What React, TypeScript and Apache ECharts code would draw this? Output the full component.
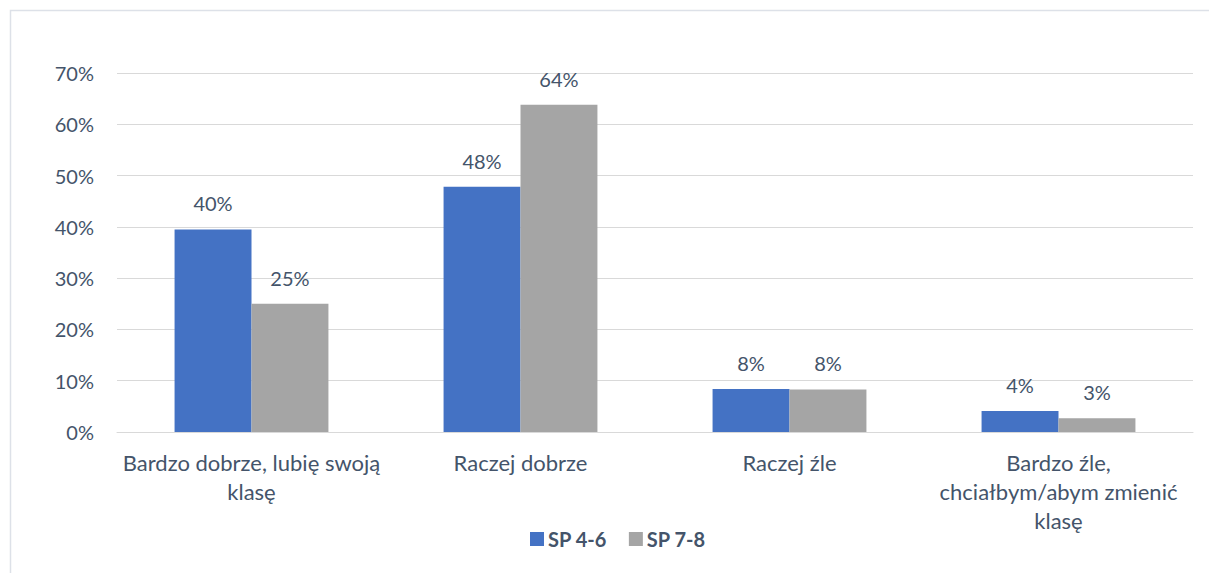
import React, { useEffect, useRef } from "react";
import * as echarts from "echarts";

const categories = [
  "Bardzo dobrze, lubię swoją\nklasę",
  "Raczej dobrze",
  "Raczej źle",
  "Bardzo źle,\nchciałbym/abym zmienić\nklasę",
];
const sp46 = [39.5, 47.8, 8.4, 4.1];
const sp78 = [25, 63.8, 8.3, 2.7];
const seriesNames = ["SP 4-6", "SP 7-8"];

const FONT = "Lato, 'Open Sans', sans-serif";
const TEXT = "#44546a";
const FS = 20;

export default function App() {
  const ref = useRef<HTMLDivElement>(null);
  useEffect(() => {
    const chart = echarts.init(ref.current!, undefined, { renderer: "svg" });
    const label = {
      show: true,
      position: "top" as const,
      distance: 16,
      color: TEXT,
      fontFamily: FONT,
      fontSize: FS,
      formatter: (p: any) => Math.round(p.value) + "%",
    };
    chart.setOption({
      animation: false,
      backgroundColor: "#ffffff",
      textStyle: { fontFamily: FONT },
      graphic: [
        {
          type: "rect",
          shape: { x: 10.5, y: 10.5, width: 1300, height: 700 },
          style: { fill: "none", stroke: "#dde1e8", lineWidth: 1.5 },
          silent: true,
        },
      ],
      grid: { left: 117, right: 16, top: 73, bottom: 141, containLabel: false },
      legend: {
        bottom: 19,
        left: 525,
        itemWidth: 14,
        itemHeight: 14,
        itemGap: 22,
        icon: "rect",
        textStyle: { color: TEXT, fontFamily: FONT, fontSize: FS, fontWeight: "bold", padding: [0, 0, 0, -1] },
        data: seriesNames,
      },
      xAxis: {
        type: "category",
        data: categories,
        axisTick: { show: false },
        axisLine: { lineStyle: { color: "#d9d9d9", width: 1 } },
        axisLabel: {
          color: TEXT,
          fontFamily: FONT,
          fontSize: 22,
          lineHeight: 29,
          margin: 16,
          interval: 0,
        },
      },
      yAxis: {
        type: "value",
        min: 0,
        max: 70,
        interval: 10,
        axisLine: { show: false },
        axisTick: { show: false },
        splitLine: { lineStyle: { color: "#d9d9d9", width: 1 } },
        axisLabel: {
          color: TEXT,
          fontFamily: FONT,
          fontSize: FS,
          margin: 23,
          formatter: (v: number) => v + "%",
        },
      },
      series: [
        {
          name: seriesNames[0],
          type: "bar",
          data: sp46,
          itemStyle: { color: "#4472c4" },
          barGap: "0%",
          barCategoryGap: "42.8%",
          label,
        },
        {
          name: seriesNames[1],
          type: "bar",
          data: sp78,
          itemStyle: { color: "#a5a5a5" },
          barGap: "0%",
          barCategoryGap: "42.8%",
          label,
        },
      ],
    });
    return () => chart.dispose();
  }, []);
  return <div ref={ref} style={{ width: 1209, height: 573, position: "absolute", left: 0, top: 0 }} />;
}
